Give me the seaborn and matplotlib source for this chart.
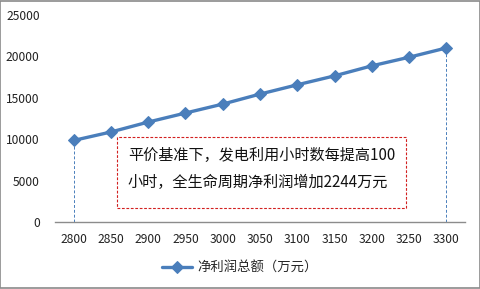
import matplotlib
matplotlib.use("Agg")
import matplotlib.pyplot as plt
from matplotlib.patches import Rectangle
import seaborn as sns
import pandas as pd

hours = [2800, 2850, 2900, 2950, 3000, 3050, 3100, 3150, 3200, 3250, 3300]
profit = [9850, 10870, 12070, 13160, 14240, 15450, 16570, 17650, 18860, 19900, 21020]
series_name = "净利润总额（万元）"
y_ticks = [0, 5000, 10000, 15000, 20000, 25000]
note_text = "平价基准下，发电利用小时数每提高100\n小时，全生命周期净利润增加2244万元"

sns.set_theme(style="white")
plt.rcParams['font.family'] = ['Noto Sans CJK SC', 'DejaVu Sans']

df = pd.DataFrame({"hours": hours, "profit": profit, "series": series_name})

fig = plt.figure(figsize=(4.81, 2.89), dpi=100)
ax = fig.add_axes([55/481, 1-222/289, 410/481, (222-15)/289])

blue = "#4A7EBB"
sns.lineplot(data=df, x="hours", y="profit", hue="series", palette=[blue],
             marker="D", markersize=6.5, markeredgecolor=blue, linewidth=2.4,
             ax=ax, legend=True)

# drop lines at first and last points
ax.vlines([hours[0], hours[-1]], 0, [profit[0], profit[-1]], colors=blue,
          linestyles=(0, (3, 2)), linewidth=0.7, zorder=1)

ax.set_xlim(hours[0] - 25, hours[-1] + 25)
ax.set_ylim(0, 25000)
ax.set_xticks(hours)
ax.set_xticklabels([str(h) for h in hours])
ax.set_yticks(y_ticks)
ax.set_yticklabels([str(v) for v in y_ticks])
ax.tick_params(axis='both', length=0, labelsize=8.7, colors="#222222")
ax.tick_params(axis='x', pad=8)
ax.tick_params(axis='y', pad=11)
ax.set_xlabel("")
ax.set_ylabel("")
for s in ["left", "right", "top"]:
    ax.spines[s].set_visible(False)
ax.spines["bottom"].set_color("#8c8c8c")
ax.spines["bottom"].set_linewidth(1.0)

# annotation box
box = Rectangle((117/481, 1-208/289), (406-117)/481, (208-137)/289,
                transform=fig.transFigure, fill=True, facecolor="white",
                edgecolor="#d22020", linestyle=(0, (2.5, 1.5)), linewidth=0.8, zorder=5)
fig.add_artist(box)
fig.text(128/481, 1-169/289, note_text, fontsize=10.9, color="#111111",
         ha="left", va="center", linespacing=1.8, zorder=6)

# legend
h, l = ax.get_legend_handles_labels()
ax.legend_.remove()
fig.legend(h, l, loc="center", bbox_to_anchor=(240/481, 1-268/289), frameon=False,
           fontsize=9.6, handlelength=2.2, handletextpad=0.4)

# outer border
fig.add_artist(Rectangle((0.001, 0.002), 0.997, 0.995, transform=fig.transFigure,
                         fill=False, edgecolor="#8a8a8a", linewidth=1.2))

fig.savefig("out.png", dpi=100)
